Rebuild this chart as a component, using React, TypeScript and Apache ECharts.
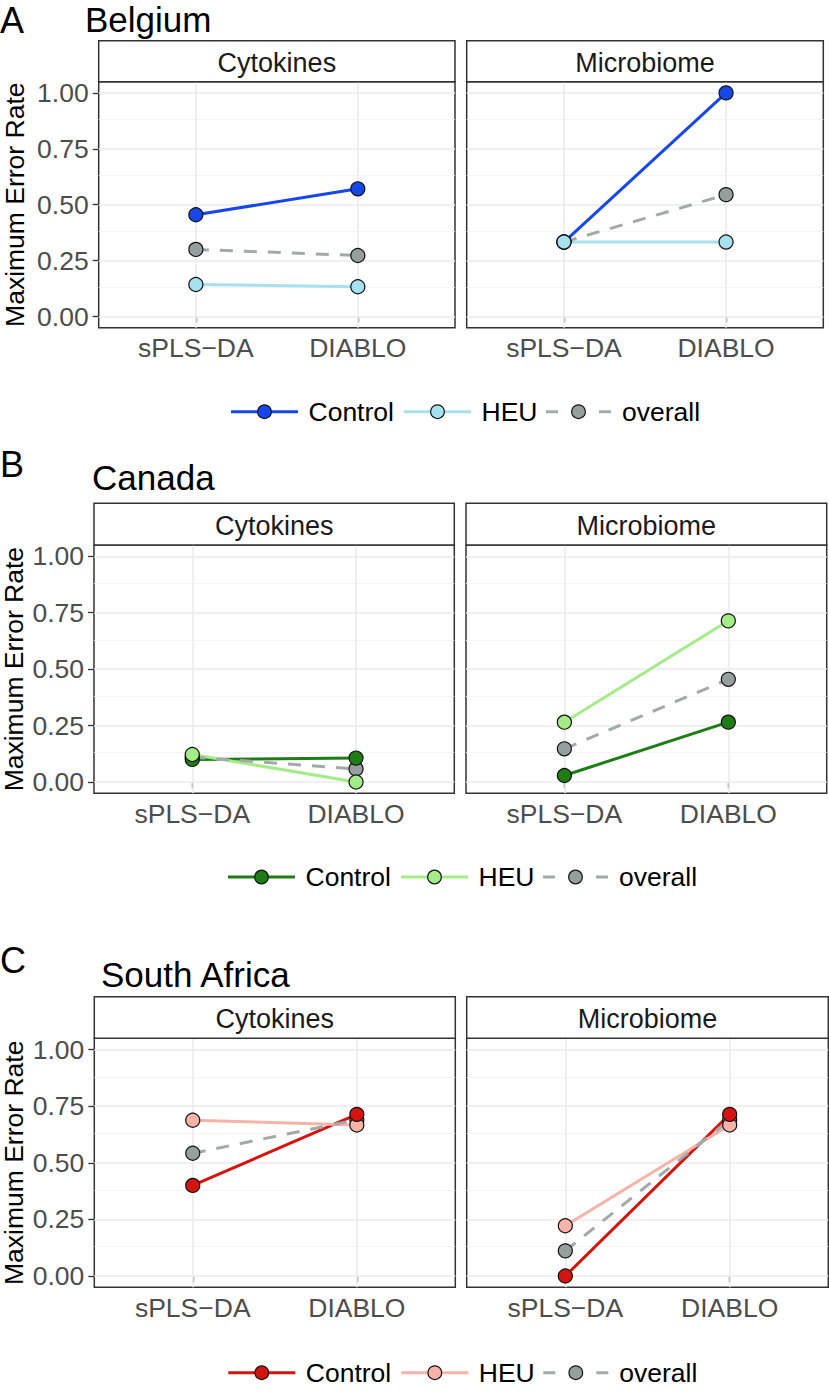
import React, { useEffect, useRef } from 'react';
import * as echarts from 'echarts';

// ---------- data ----------
const categories = ['sPLS−DA', 'DIABLO'];
const categoryPositions = [1, 2];
const yTickValues = [0, 0.25, 0.5, 0.75, 1];
const yMinorValues = [0.125, 0.375, 0.625, 0.875];
const blocks = ['Cytokines', 'Microbiome'];
const countries = ['Belgium', 'Canada', 'South Africa'];
const panelLetters = ['A', 'B', 'C'];
const groups = ['Control', 'HEU', 'overall'];
const yAxisTitle = 'Maximum Error Rate';

const belgiumCytokinesControl = [0.455, 0.571];
const belgiumCytokinesHEU = [0.143, 0.133];
const belgiumCytokinesOverall = [0.3, 0.273];
const belgiumMicrobiomeControl = [0.333, 1.0];
const belgiumMicrobiomeHEU = [0.333, 0.333];
const belgiumMicrobiomeOverall = [0.333, 0.545];

const canadaCytokinesControl = [0.1, 0.106];
const canadaCytokinesHEU = [0.122, 0.0];
const canadaCytokinesOverall = [0.11, 0.058];
const canadaMicrobiomeControl = [0.029, 0.265];
const canadaMicrobiomeHEU = [0.265, 0.714];
const canadaMicrobiomeOverall = [0.147, 0.455];

const southAfricaCytokinesControl = [0.4, 0.714];
const southAfricaCytokinesHEU = [0.688, 0.667];
const southAfricaCytokinesOverall = [0.542, 0.69];
const southAfricaMicrobiomeControl = [0.0, 0.714];
const southAfricaMicrobiomeHEU = [0.222, 0.667];
const southAfricaMicrobiomeOverall = [0.111, 0.69];

const panelValues = [
  [
    [belgiumCytokinesControl, belgiumCytokinesHEU, belgiumCytokinesOverall],
    [belgiumMicrobiomeControl, belgiumMicrobiomeHEU, belgiumMicrobiomeOverall],
  ],
  [
    [canadaCytokinesControl, canadaCytokinesHEU, canadaCytokinesOverall],
    [canadaMicrobiomeControl, canadaMicrobiomeHEU, canadaMicrobiomeOverall],
  ],
  [
    [southAfricaCytokinesControl, southAfricaCytokinesHEU, southAfricaCytokinesOverall],
    [southAfricaMicrobiomeControl, southAfricaMicrobiomeHEU, southAfricaMicrobiomeOverall],
  ],
];

// ---------- styles / layout ----------
const FONT = "'Liberation Sans', Arial, Helvetica, sans-serif";
const controlColors = ['#1747E8', '#1F7C17', '#D4140F'];
const heuColors = ['#A7E1ED', '#A4EC87', '#F8B3A9'];
const overallLineColor = '#A2A9A9';
const overallPointColor = '#979E9E';

const rowLayout = [
  { letterY: 20, titleX: 85, titleY: 19, stripTop: 40.7, plotTop: 81.7, plotBottom: 327.7, lefts: [98.7, 466.7], rights: [455, 823.3], legendY: 411.7, legendX: 231, axisTitleX: 15, pointOrder: [2, 0, 1] },
  { letterY: 464, titleX: 92, titleY: 477.5, stripTop: 503.3, plotTop: 545, plotBottom: 793.3, lefts: [94, 466], rights: [454.3, 826.7], legendY: 877, legendX: 228, axisTitleX: 13.5, pointOrder: [2, 0, 1] },
  { letterY: 960, titleX: 101, titleY: 974, stripTop: 996.7, plotTop: 1038.3, plotBottom: 1287.3, lefts: [94.3, 466.7], rights: [455.3, 828.3], legendY: 1372.7, legendX: 228.3, axisTitleX: 13.5, pointOrder: [2, 1, 0] },
];

function groupColor(row: number, g: number) {
  if (g === 0) return controlColors[row];
  if (g === 1) return heuColors[row];
  return overallLineColor;
}
function groupPointColor(row: number, g: number) {
  if (g === 2) return overallPointColor;
  return groupColor(row, g);
}

function buildOption() {
  const grids: any[] = [];
  const xAxes: any[] = [];
  const yAxes: any[] = [];
  const series: any[] = [];
  const graphics: any[] = [];

  countries.forEach((country, r) => {
    const L = rowLayout[r];
    graphics.push({
      type: 'text', x: 0, y: L.letterY,
      style: { text: panelLetters[r], fontSize: 36, fontFamily: FONT, fill: '#000', align: 'left', verticalAlign: 'middle', textAlign: 'left', textVerticalAlign: 'middle' },
    });
    graphics.push({
      type: 'text', x: L.titleX, y: L.titleY,
      style: { text: country, fontSize: 35, fontFamily: FONT, fill: '#000', align: 'left', verticalAlign: 'middle', textAlign: 'left', textVerticalAlign: 'middle' },
    });
    graphics.push({
      type: 'text', x: L.axisTitleX, y: (L.plotTop + L.plotBottom) / 2, rotation: Math.PI / 2,
      style: { text: yAxisTitle, fontSize: 26.5, fontFamily: FONT, fill: '#000', align: 'center', verticalAlign: 'middle', textAlign: 'center', textVerticalAlign: 'middle' },
    });

    blocks.forEach((block, c) => {
      const p = r * 2 + c;
      const left = L.lefts[c];
      const width = L.rights[c] - left;
      grids.push({
        left, top: L.plotTop, width, height: L.plotBottom - L.plotTop,
        show: true, borderColor: '#333333', borderWidth: 1.5, backgroundColor: 'transparent', containLabel: false,
      });
      xAxes.push({
        type: 'value', gridIndex: p, min: 0.4, max: 2.6,
        axisLine: { show: false },
        splitLine: { show: false },
        axisTick: { show: true, customValues: categoryPositions, length: 6, lineStyle: { color: '#333333', width: 1.3 } },
        axisLabel: {
          show: true, customValues: categoryPositions, margin: 7,
          formatter: (v: number) => categories[Math.round(v) - 1] ?? '',
          color: '#4D4D4D', fontSize: 26.5, fontFamily: FONT,
        },
      });
      yAxes.push({
        type: 'value', gridIndex: p, min: -0.05, max: 1.05,
        axisLine: { show: false },
        splitLine: { show: false },
        axisTick: { show: c === 0, customValues: yTickValues, length: 6, lineStyle: { color: '#333333', width: 1.3 } },
        axisLabel: {
          show: c === 0, customValues: yTickValues, margin: 10,
          formatter: (v: number) => v.toFixed(2),
          color: '#4D4D4D', fontSize: 26.5, fontFamily: FONT,
        },
      });

      graphics.push({
        type: 'rect', z: 10,
        shape: { x: left, y: L.stripTop, width, height: L.plotTop - L.stripTop },
        style: { fill: '#FFFFFF', stroke: '#333333', lineWidth: 1.5 },
      });
      graphics.push({
        type: 'text', z: 11, x: left + width / 2, y: L.stripTop + (L.plotTop - L.stripTop) * 0.54,
        style: { text: block, fontSize: 27, fontFamily: FONT, fill: '#1A1A1A', align: 'center', verticalAlign: 'middle', textAlign: 'center', textVerticalAlign: 'middle' },
      });

      const vals = panelValues[r][c];
      const gridLines = [
        ...yTickValues.map((v) => ({ yAxis: v, lineStyle: { color: '#EBEBEB', width: 1.6, type: 'solid' } })),
        ...yMinorValues.map((v) => ({ yAxis: v, lineStyle: { color: '#F3F3F3', width: 0.9, type: 'solid' } })),
        ...categoryPositions.map((v) => ({ xAxis: v, lineStyle: { color: '#EBEBEB', width: 1.6, type: 'solid' } })),
      ];
      groups.forEach((gname, g) => {
        const s: any = {
          type: 'line', name: gname, xAxisIndex: p, yAxisIndex: p,
          data: vals[g].map((v, i) => [categoryPositions[i], v]),
          showSymbol: false, symbol: 'none', silent: true, z: 3 + g * 0.1,
          lineStyle: { color: groupColor(r, g), width: 3, type: g === 2 ? [13, 11] : 'solid' },
        };
        if (g === 0) {
          s.markLine = { silent: true, symbol: ['none', 'none'], z: 1, label: { show: false }, data: gridLines };
        }
        series.push(s);
      });
      L.pointOrder.forEach((g, k) => {
        series.push({
          type: 'scatter', name: groups[g], xAxisIndex: p, yAxisIndex: p,
          data: vals[g].map((v, i) => [categoryPositions[i], v]),
          symbol: 'circle', symbolSize: 14, silent: true, z: 5 + k * 0.1,
          itemStyle: { color: groupPointColor(r, g), borderColor: '#111111', borderWidth: 1.2, opacity: 1 },
        });
      });
    });

    const lx = L.legendX;
    const ly = L.legendY;
    const items = [
      { line: [0, 67], circle: 33.5, text: 77.5 },
      { line: [173, 240], circle: 206.5, text: 250.5 },
      { line: [315, 380], circle: 347.5, text: 391 },
    ];
    items.forEach((it, g) => {
      graphics.push({
        type: 'line', shape: { x1: lx + it.line[0], y1: ly, x2: lx + it.line[1], y2: ly },
        style: { stroke: groupColor(r, g), lineWidth: 3, lineDash: g === 2 ? [12, 41] : null },
      });
      graphics.push({
        type: 'circle', shape: { cx: lx + it.circle, cy: ly, r: 6.8 },
        style: { fill: groupPointColor(r, g), stroke: '#111111', lineWidth: 1.2 },
      });
      graphics.push({
        type: 'text', x: lx + it.text, y: ly,
        style: { text: groups[g], fontSize: 26.5, fontFamily: FONT, fill: '#000', align: 'left', verticalAlign: 'middle', textAlign: 'left', textVerticalAlign: 'middle' },
      });
    });
  });

  return {
    animation: false,
    backgroundColor: '#FFFFFF',
    grid: grids,
    xAxis: xAxes,
    yAxis: yAxes,
    series,
    graphic: { elements: graphics },
  };
}

export default function App() {
  const ref = useRef<HTMLDivElement>(null);
  useEffect(() => {
    if (!ref.current) return;
    const chart = echarts.init(ref.current, null, { renderer: 'svg' });
    chart.setOption(buildOption() as any);
    return () => chart.dispose();
  }, []);
  return (
    <div
      ref={ref}
      style={{ position: 'absolute', left: 0, top: 0, width: 829, height: 1400, background: '#fff' }}
    />
  );
}
